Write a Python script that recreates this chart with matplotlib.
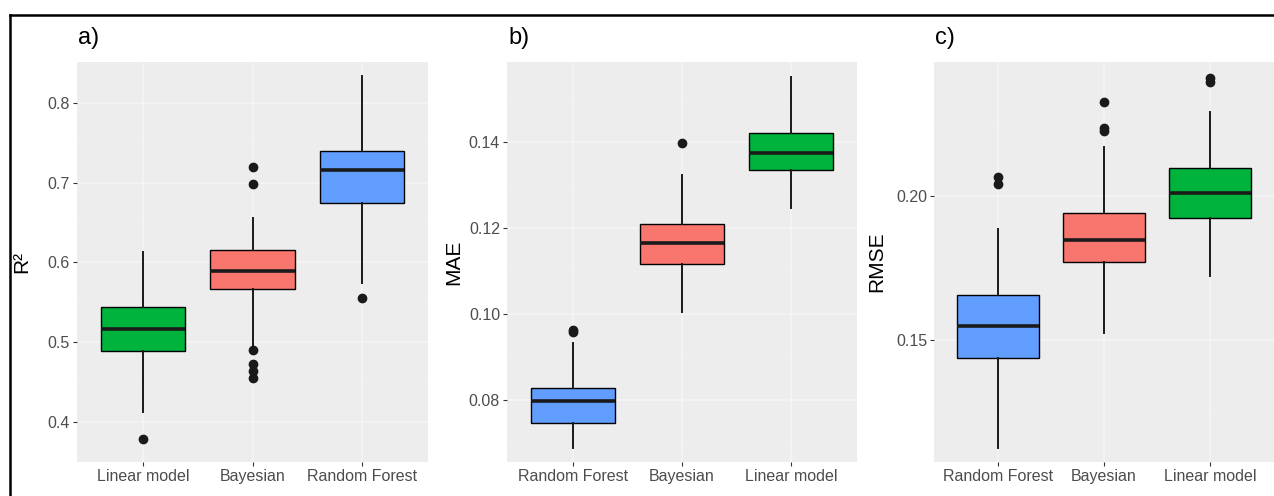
import matplotlib
matplotlib.use("Agg")
import matplotlib.pyplot as plt
from matplotlib.lines import Line2D

plt.rcParams['font.family'] = ['Liberation Sans', 'DejaVu Sans']

# ---- data ----
cats_a = ["Linear model", "Bayesian", "Random Forest"]
q1_a = [0.489, 0.567, 0.674]
med_a = [0.517, 0.589, 0.716]
q3_a = [0.544, 0.615, 0.740]
wlo_a = [0.413, 0.495, 0.574]
whi_a = [0.613, 0.656, 0.833]
fl_a = [[0.379], [0.490, 0.473, 0.464, 0.455, 0.698, 0.719], [0.556]]
ticks_a = [0.4, 0.5, 0.6, 0.7, 0.8]

cats_b = ["Random Forest", "Bayesian", "Linear model"]
q1_b = [0.0747, 0.1116, 0.1335]
med_b = [0.0798, 0.1165, 0.1374]
q3_b = [0.0828, 0.1209, 0.1421]
wlo_b = [0.0688, 0.1005, 0.1247]
whi_b = [0.0932, 0.1323, 0.1551]
fl_b = [[0.0958, 0.0962], [0.1398], []]
ticks_b = [0.08, 0.10, 0.12, 0.14]

cats_c = ["Random Forest", "Bayesian", "Linear model"]
q1_c = [0.1438, 0.1771, 0.1924]
med_c = [0.1549, 0.1847, 0.2009]
q3_c = [0.1656, 0.1941, 0.2097]
wlo_c = [0.1124, 0.1524, 0.1722]
whi_c = [0.1885, 0.2170, 0.2292]
fl_c = [[0.2040, 0.2066], [0.2226, 0.2236, 0.2326], [0.2396, 0.2410]]
ticks_c = [0.15, 0.20]

colors_a = ["#00B33C", "#F8766D", "#619CFF"]
colors_bc = ["#619CFF", "#F8766D", "#00B33C"]

W, H = 1274, 496
fig = plt.figure(figsize=(W / 100, H / 100), dpi=100)
fig.patch.set_facecolor("white")


def make_panel(rect_px, cats, q1, med, q3, wlo, whi, fl, colors, ticks, ylim,
               ylabel, label, fmt, ylabel_x):
    x0, x1 = rect_px
    ytop, ybot = 62, 462
    ax = fig.add_axes([x0 / W, 1 - ybot / H, (x1 - x0) / W, (ybot - ytop) / H])
    ax.set_facecolor("#EDEDED")
    for s in ax.spines.values():
        s.set_visible(False)
    stats = []
    for i in range(len(cats)):
        stats.append(dict(q1=q1[i], med=med[i], q3=q3[i], whislo=wlo[i],
                          whishi=whi[i], fliers=fl[i], label=cats[i]))
    pos = list(range(1, len(cats) + 1))
    bp = ax.bxp(stats, positions=pos, widths=0.77, patch_artist=True,
                showcaps=False, zorder=3,
                boxprops=dict(edgecolor="black", linewidth=1.0),
                medianprops=dict(color="#1a1a1a", linewidth=2.6),
                whiskerprops=dict(color="#1a1a1a", linewidth=1.4),
                flierprops=dict(marker="o", markerfacecolor="#1a1a1a",
                                markeredgecolor="#1a1a1a", markersize=6))
    for patch, c in zip(bp["boxes"], colors):
        patch.set_facecolor(c)
    ax.set_xlim(0.4, len(cats) + 0.6)
    ax.set_ylim(*ylim)
    ax.set_yticks(ticks)
    ax.set_yticklabels([fmt.format(t) for t in ticks])
    minors = [(ticks[i] + ticks[i + 1]) / 2 for i in range(len(ticks) - 1)]
    step = ticks[1] - ticks[0]
    minors = [ticks[0] - step / 2] + minors + [ticks[-1] + step / 2]
    ax.set_yticks(minors, minor=True)
    ax.set_xticks(pos)
    ax.set_xticklabels(cats)
    ax.grid(True, which="major", color="#F6F6F6", linewidth=1.1, zorder=0)
    ax.grid(True, which="minor", axis="y", color="#F1F1F1", linewidth=0.5, zorder=0)
    ax.set_axisbelow(True)
    ax.tick_params(axis="both", which="major", length=3, width=0.8,
                   color="#333333", labelcolor="#4D4D4D", labelsize=11.5, pad=2)
    ax.tick_params(axis="y", which="minor", length=0)
    fig.text(ylabel_x / W, 1 - 262 / H, ylabel, rotation=90, ha="center",
             va="center", fontsize=15, color="black")
    fig.text((x0 + 1) / W, 1 - 38 / H, label, ha="left", va="center",
             fontsize=17, color="black")
    return ax


make_panel((77, 428), cats_a, q1_a, med_a, q3_a, wlo_a, whi_a, fl_a, colors_a,
           ticks_a, (0.365, 0.851), "R²", "a)", "{:.1f}", 22)
make_panel((507, 857), cats_b, q1_b, med_b, q3_b, wlo_b, whi_b, fl_b, colors_bc,
           ticks_b, (0.0656, 0.1586), "MAE", "b)", "{:.2f}", 454)
make_panel((934, 1274), cats_c, q1_c, med_c, q3_c, wlo_c, whi_c, fl_c, colors_bc,
           ticks_c, (0.1076, 0.2465), "RMSE", "c)", "{:.2f}", 877)

# outer frame (top and left)
fig.add_artist(Line2D([10 / W, 1.0], [1 - 15 / H, 1 - 15 / H], color="black",
                      linewidth=1.8, transform=fig.transFigure))
fig.add_artist(Line2D([10 / W, 10 / W], [0.0, 1 - 15 / H], color="black",
                      linewidth=1.8, transform=fig.transFigure))

fig.savefig("out.png", dpi=100)
